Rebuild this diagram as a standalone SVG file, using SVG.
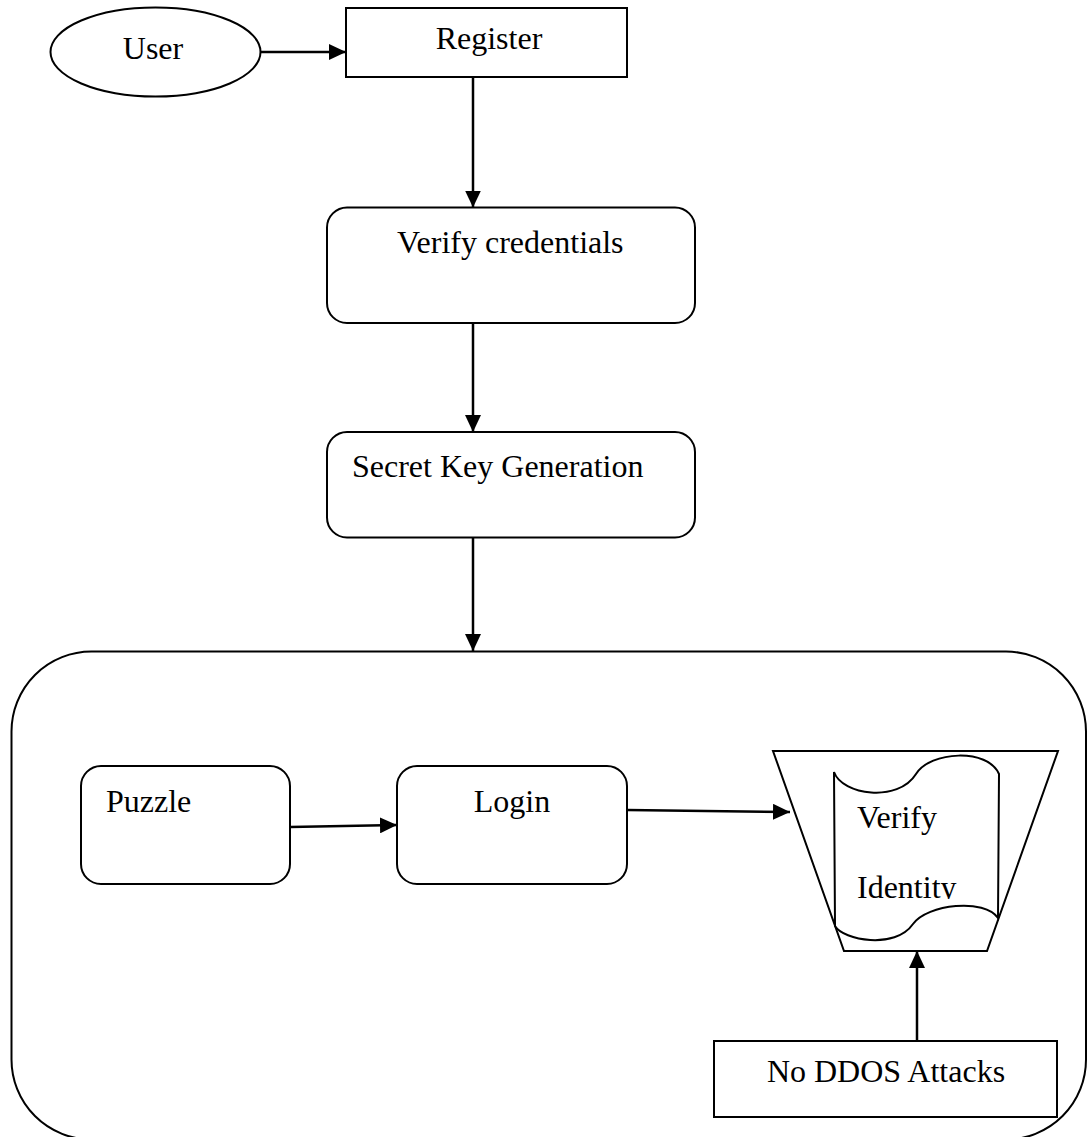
<svg xmlns="http://www.w3.org/2000/svg" width="1087" height="1137" viewBox="0 0 1087 1137">
  <defs>
    <style>
      .shape { fill: #fff; stroke: #000; stroke-width: 2; }
      .frame { fill: none; stroke: #000; stroke-width: 2; }
      .edge { fill: none; stroke: #000; stroke-width: 2.5; }
      .label { font-family: "Liberation Serif", "Times New Roman", serif; font-size: 32px; fill: #000; }
      .mid { text-anchor: middle; }
    </style>
    <marker id="arrow" markerUnits="userSpaceOnUse" markerWidth="18" markerHeight="16" refX="17" refY="8" orient="auto">
      <path d="M0,0 L17,8 L0,16 Z" fill="#000"/>
    </marker>
    <clipPath id="tape-text">
      <rect x="830" y="760" width="170" height="139"/>
    </clipPath>
  </defs>

  <rect width="1087" height="1137" fill="#fff"/>

  <!-- outer process boundary -->
  <g id="boundary">
    <rect class="frame" x="11.5" y="651.5" width="1074.5" height="488" rx="80" ry="80"/>
  </g>

  <g id="user">
    <ellipse class="shape" cx="155.5" cy="52" rx="105" ry="44.5"/>
    <text class="label mid" x="153" y="59">User</text>
  </g>

  <g id="register">
    <rect class="shape" x="346" y="8" width="281" height="69"/>
    <text class="label mid" x="489" y="49">Register</text>
  </g>

  <g id="verify-credentials">
    <rect class="shape" x="327" y="207.5" width="368" height="115.5" rx="20" ry="20"/>
    <text class="label" x="397" y="253">Verify credentials</text>
  </g>

  <g id="secret-key">
    <rect class="shape" x="327" y="432" width="368" height="105.5" rx="20" ry="20"/>
    <text class="label" x="352" y="477">Secret Key Generation</text>
  </g>

  <g id="puzzle">
    <rect class="shape" x="81" y="766" width="209" height="118" rx="20" ry="20"/>
    <text class="label" x="106" y="812">Puzzle</text>
  </g>

  <g id="login">
    <rect class="shape" x="397" y="766" width="230" height="118" rx="20" ry="20"/>
    <text class="label mid" x="512" y="812">Login</text>
  </g>

  <g id="verify-identity">
    <polygon class="shape" points="773,751 1058,751 987,951 844,951"/>
    <path class="shape" d="M834,772 C842,795 898,803 916,774 C930,751 988,748 999,774 L998,918 C985,898 927,904 913,924 C895,950 843,940 835,926 Z"/>
    <g clip-path="url(#tape-text)">
      <text class="label" x="857" y="828">Verify</text>
      <text class="label" x="857" y="898">Identity</text>
    </g>
  </g>

  <g id="no-ddos">
    <rect class="shape" x="714" y="1041" width="343" height="76"/>
    <text class="label mid" x="886" y="1082">No DDOS Attacks</text>
  </g>

  <!-- connectors -->
  <g id="connectors">
    <line class="edge" x1="260.5" y1="52" x2="346" y2="52" marker-end="url(#arrow)"/>
    <line class="edge" x1="473" y1="77" x2="473" y2="207.5" marker-end="url(#arrow)"/>
    <line class="edge" x1="473" y1="323" x2="473" y2="432" marker-end="url(#arrow)"/>
    <line class="edge" x1="473" y1="537.5" x2="473" y2="651" marker-end="url(#arrow)"/>
    <line class="edge" x1="290" y1="827" x2="397" y2="825" marker-end="url(#arrow)"/>
    <line class="edge" x1="627" y1="810" x2="790" y2="812" marker-end="url(#arrow)"/>
    <line class="edge" x1="917" y1="1041" x2="917" y2="951" marker-end="url(#arrow)"/>
  </g>
</svg>
